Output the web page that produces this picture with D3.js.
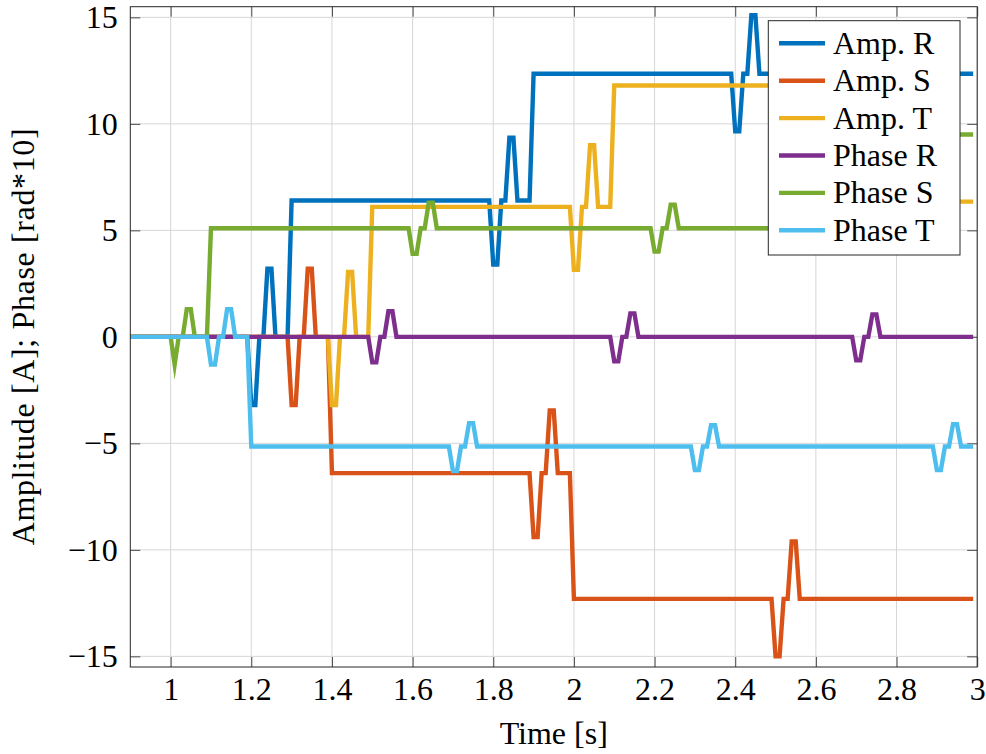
<!DOCTYPE html>
<html><head><meta charset="utf-8">
<script src="https://cdn.jsdelivr.net/npm/d3@7"></script>
<style>
body{margin:0;background:#fff}
svg{display:block}
text{font-family:"Liberation Serif","Times New Roman",serif;fill:#000}
</style>
</head><body>
<svg id="chart" width="986" height="754"></svg>
<script>
// ---------- data (time [s], value) breakpoints; sampled every 0.01 s ----------
const seriesNames = ["Amp. R", "Amp. S", "Amp. T", "Phase R", "Phase S", "Phase T"];
const seriesColors = ["#0072BD", "#D95319", "#EDB120", "#7E2F8E", "#77AC30", "#4DBEEE"];

const ampR = [[0.9,0],[1.19,0],[1.20,-3.2],[1.21,-3.2],[1.22,0],[1.23,0],[1.24,3.2],[1.25,3.2],[1.26,0],[1.29,0],[1.30,6.4],
  [1.79,6.4],[1.80,3.4],[1.81,3.4],[1.82,6.4],[1.83,6.4],[1.84,9.35],[1.85,9.35],[1.86,6.4],[1.89,6.4],[1.90,12.35],
  [2.39,12.35],[2.40,9.65],[2.41,9.65],[2.42,12.35],[2.43,12.35],[2.44,15.1],[2.45,15.1],[2.46,12.35],[2.99,12.35]];

const ampS = [[0.9,0],[1.29,0],[1.30,-3.2],[1.31,-3.2],[1.32,0],[1.33,0],[1.34,3.2],[1.35,3.2],[1.36,0],[1.39,0],[1.40,-6.4],
  [1.89,-6.4],[1.90,-9.4],[1.91,-9.4],[1.92,-6.4],[1.93,-6.4],[1.94,-3.45],[1.95,-3.45],[1.96,-6.4],[1.99,-6.4],[2.00,-12.3],
  [2.49,-12.3],[2.50,-15.0],[2.51,-15.0],[2.52,-12.3],[2.53,-12.3],[2.54,-9.6],[2.55,-9.6],[2.56,-12.3],[2.99,-12.3]];

const ampT = [[0.9,0],[1.39,0],[1.40,-3.2],[1.41,-3.2],[1.42,0],[1.43,0],[1.44,3.05],[1.45,3.05],[1.46,0],[1.49,0],[1.50,6.1],
  [1.99,6.1],[2.00,3.15],[2.01,3.15],[2.02,6.1],[2.03,6.1],[2.04,9.0],[2.05,9.0],[2.06,6.1],[2.09,6.1],[2.10,11.8],
  [2.59,11.8],[2.60,9.1],[2.61,9.1],[2.62,11.8],[2.63,11.8],[2.64,14.5],[2.65,14.5],[2.66,11.8],[2.69,11.8],[2.70,6.35],[2.99,6.35]];

const phaseR = [[0.9,0],[1.49,0],[1.50,-1.2],[1.51,-1.2],[1.52,0],[1.53,0],[1.54,1.2],[1.55,1.2],[1.56,0],
  [2.09,0],[2.10,-1.15],[2.11,-1.15],[2.12,0],[2.13,0],[2.14,1.1],[2.15,1.1],[2.16,0],
  [2.69,0],[2.70,-1.1],[2.71,-1.1],[2.72,0],[2.73,0],[2.74,1.05],[2.75,1.05],[2.76,0],[2.99,0]];

const phaseS = [[0.9,0],[1.00,0],[1.01,-1.3],[1.02,0],[1.03,0],[1.04,1.3],[1.05,1.3],[1.06,0],[1.09,0],[1.10,5.1],
  [1.59,5.1],[1.60,3.9],[1.61,3.9],[1.62,5.1],[1.63,5.1],[1.64,6.3],[1.65,6.3],[1.66,5.1],
  [2.19,5.1],[2.20,4.0],[2.21,4.0],[2.22,5.1],[2.23,5.1],[2.24,6.2],[2.25,6.2],[2.26,5.1],
  [2.79,5.1],[2.80,4.0],[2.81,4.0],[2.82,5.1],[2.83,5.1],[2.84,6.2],[2.85,6.2],[2.86,5.1],[2.89,5.1],[2.90,9.5],[2.99,9.5]];

const phaseT = [[0.9,0],[1.09,0],[1.10,-1.3],[1.11,-1.3],[1.12,0],[1.13,0],[1.14,1.3],[1.15,1.3],[1.16,0],[1.19,0],[1.20,-5.15],
  [1.69,-5.15],[1.70,-6.3],[1.71,-6.3],[1.72,-5.15],[1.73,-5.15],[1.74,-4.05],[1.75,-4.05],[1.76,-5.15],
  [2.29,-5.15],[2.30,-6.25],[2.31,-6.25],[2.32,-5.15],[2.33,-5.15],[2.34,-4.15],[2.35,-4.15],[2.36,-5.15],
  [2.89,-5.15],[2.90,-6.25],[2.91,-6.25],[2.92,-5.15],[2.93,-5.15],[2.94,-4.1],[2.95,-4.1],[2.96,-5.15],[2.99,-5.15]];

const xTicks = [1, 1.2, 1.4, 1.6, 1.8, 2, 2.2, 2.4, 2.6, 2.8, 3];
const yTicks = [-15, -10, -5, 0, 5, 10, 15];
const xDomain = [0.9, 3];
const yDomain = [-15.5, 15.5];
const xLabel = "Time [s]";
const yLabel = "Amplitude [A]; Phase [rad*10]";

const seriesData = [ampR, ampS, ampT, phaseR, phaseS, phaseT];

// ---------- layout ----------
const L = 130.3, R = 977.2, T = 6.7, B = 667;
const FONT = 32;
const axisColor = "#262626";
const gridColor = "#d6d6d6";

const svg = d3.select("#chart");
const x = d3.scaleLinear().domain(xDomain).range([L, R]);
const y = d3.scaleLinear().domain(yDomain).range([B, T]);

// grid
const grid = svg.append("g");
grid.selectAll("line.gx").data(xTicks).join("line")
  .attr("x1", d => x(d)).attr("x2", d => x(d)).attr("y1", T).attr("y2", B)
  .attr("stroke", gridColor).attr("stroke-width", 1);
grid.selectAll("line.gy").data(yTicks).join("line")
  .attr("x1", L).attr("x2", R).attr("y1", d => y(d)).attr("y2", d => y(d))
  .attr("stroke", gridColor).attr("stroke-width", 1);

// axes (ticks inward on all sides)
const fmtX = d => String(d);
const fmtY = d => (d < 0 ? "\u2212" + Math.abs(d) : String(d));

const gB = svg.append("g").attr("transform", `translate(0,${B})`)
  .call(d3.axisBottom(x).tickValues(xTicks).tickFormat(fmtX).tickSizeInner(-10).tickSizeOuter(0).tickPadding(10.5));
const gT = svg.append("g").attr("transform", `translate(0,${T})`)
  .call(d3.axisTop(x).tickValues(xTicks).tickFormat("").tickSizeInner(-10).tickSizeOuter(0));
const gL = svg.append("g").attr("transform", `translate(${L},0)`)
  .call(d3.axisLeft(y).tickValues(yTicks).tickFormat(fmtY).tickSizeInner(-10).tickSizeOuter(0).tickPadding(12.5));
const gR = svg.append("g").attr("transform", `translate(${R},0)`)
  .call(d3.axisRight(y).tickValues(yTicks).tickFormat("").tickSizeInner(-10).tickSizeOuter(0));

[gB, gT, gL, gR].forEach(g => {
  g.select(".domain").remove();
  g.selectAll(".tick line").attr("stroke", "#4a4a4a").attr("stroke-width", 1);
  g.selectAll("text").attr("font-family", '"Liberation Serif","Times New Roman",serif')
    .attr("font-size", FONT).attr("fill", "#000");
});

// series lines
const line = d3.line().x(d => x(d[0])).y(d => y(d[1]));
svg.append("g").selectAll("path").data(seriesData).join("path")
  .attr("d", d => line(d))
  .attr("fill", "none")
  .attr("stroke", (d, i) => seriesColors[i])
  .attr("stroke-width", 4.4)
  .attr("stroke-linejoin", "miter")
  .attr("stroke-miterlimit", 10)
  .attr("stroke-linecap", "butt");

// axis box
svg.append("rect").attr("x", L).attr("y", T).attr("width", R - L).attr("height", B - T)
  .attr("fill", "none").attr("stroke", axisColor).attr("stroke-width", 1);

// axis labels
svg.append("text").attr("x", (L + R) / 2).attr("y", 744).attr("text-anchor", "middle")
  .attr("font-size", FONT).text(xLabel);
svg.append("text").attr("transform", `translate(34,${(T + B) / 2}) rotate(-90)`)
  .attr("text-anchor", "middle").attr("font-size", FONT)
  .attr("textLength", 417).attr("lengthAdjust", "spacing").text(yLabel);

// legend
const lg = svg.append("g");
lg.append("rect").attr("x", 768.3).attr("y", 20.7).attr("width", 191.7).attr("height", 234.3)
  .attr("fill", "#fff").attr("stroke", axisColor).attr("stroke-width", 1);
const items = lg.selectAll("g.item").data(seriesNames).join("g")
  .attr("transform", (d, i) => `translate(0,${43.3 + i * 37.4})`);
items.append("line").attr("x1", 779).attr("x2", 825).attr("y1", 0).attr("y2", 0)
  .attr("stroke", (d, i) => seriesColors[i]).attr("stroke-width", 4.4);
items.append("text").attr("x", 833).attr("y", 10.5).attr("font-size", FONT).text(d => d);
</script>
</body></html>
